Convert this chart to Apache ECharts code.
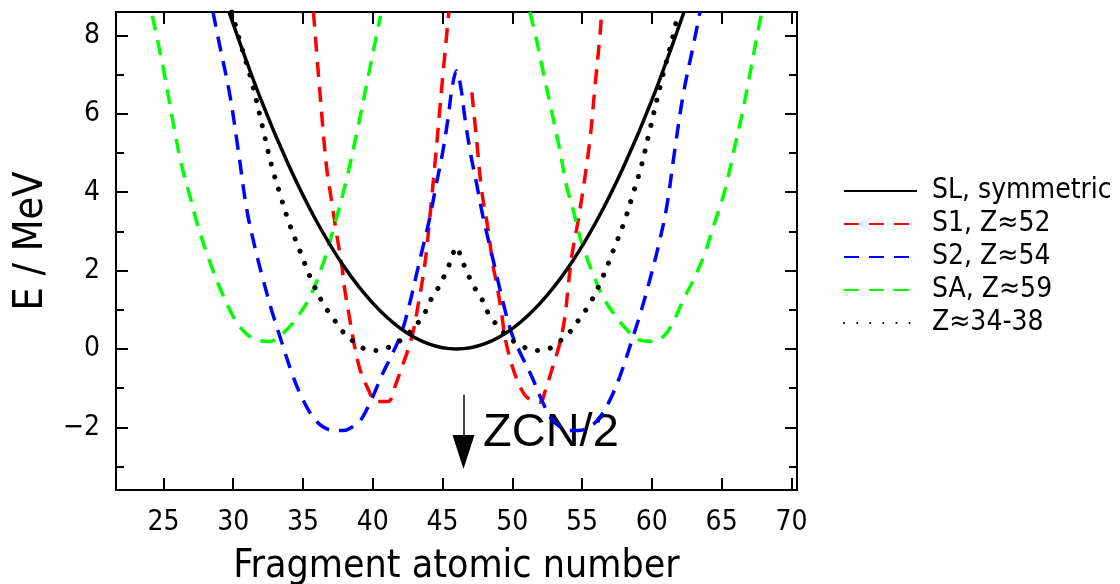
<!DOCTYPE html>
<html>
<head>
<meta charset="utf-8">
<script src="https://cdn.jsdelivr.net/npm/echarts@6/dist/echarts.min.js"></script>
<style>
  html, body { margin: 0; padding: 0; background: #fff; }
  #chart { width: 1120px; height: 584px; }
</style>
</head>
<body>
<div id="chart"></div>
<script>
// tick values
const xTicks = [25, 30, 35, 40, 45, 50, 55, 60, 65, 70];
const yTicks = [-2, 0, 2, 4, 6, 8];
const yMinorTicks = [-3, -1, 1, 3, 5, 7];

// [Z, E]
const slSymmetric = [
  [29.7, 8.6], [32, 6.35], [34, 4.67], [36, 3.24], [38, 2.07], [40, 1.17], [42, 0.52], [44, 0.13],
  [46, 0], [48, 0.13], [50, 0.52], [52, 1.17], [54, 2.07], [56, 3.24], [58, 4.67], [60, 6.35], [62.3, 8.6]
];
const s1 = [
  [35.75, 8.6], [36.2, 6.6], [36.68, 4.67], [37.04, 3.8], [37.4, 2.95], [37.76, 2.18], [38.0, 1.5],
  [38.36, 0.74], [38.7, 0.06], [39.1, -0.54], [39.7, -1.05], [40.2, -1.34], [41.1, -1.34], [41.6, -0.95],
  [42.0, -0.55], [42.45, -0.1], [42.9, 0.45], [43.25, 1.12], [43.6, 1.84], [43.85, 2.5], [44.1, 3.4],
  [44.5, 4.9], [44.95, 6.7], [45.45, 8.6],
  [46.3, '-'],
  [47.1, 6.55], [47.45, 5.3], [47.8, 4.06], [48.27, 3.04], [48.63, 2.1], [48.87, 1.68], [49.23, 0.91],
  [49.47, 0.31], [49.8, -0.2], [50.25, -0.71], [50.6, -1.0], [51.1, -1.25], [51.95, -1.36], [52.45, -0.96],
  [52.9, -0.45], [53.4, 0.14], [53.77, 0.82], [54.0, 1.59], [54.25, 2.35], [54.6, 3.04], [55.0, 3.9],
  [55.56, 5.33], [55.92, 6.69], [56.28, 8.0], [56.4, 8.6]
];
const s2 = [
  [28.55, 8.6], [29.0, 7.8], [29.75, 6.5], [30.35, 5.1], [30.95, 3.6], [31.55, 2.6], [32.15, 1.76],
  [32.75, 0.99], [33.35, 0.31], [34.3, -0.71], [35.0, -1.3], [35.7, -1.73], [36.4, -1.98], [37.2, -2.08],
  [37.9, -2.08], [38.6, -1.98], [39.2, -1.78], [40.0, -1.22], [40.6, -0.71], [41.3, -0.2], [42.05, 0.4],
  [42.65, 1.17], [43.15, 1.93], [43.6, 2.61], [44.1, 3.37], [44.55, 4.2], [45.0, 5.0], [45.4, 5.9],
  [45.7, 6.7], [46.0, 7.1], [46.3, 6.7], [46.6, 5.9], [47.0, 5.0], [47.45, 4.2], [47.9, 3.37], [48.4, 2.61],
  [48.85, 1.93], [49.35, 1.17], [49.95, 0.4], [50.7, -0.2], [51.4, -0.71], [52.0, -1.22], [52.8, -1.78],
  [53.4, -1.98], [54.1, -2.08], [54.8, -2.08], [55.6, -1.98], [56.3, -1.73], [57.0, -1.3], [57.7, -0.71],
  [58.65, 0.31], [59.25, 0.99], [59.85, 1.76], [60.45, 2.6], [61.05, 3.6], [61.65, 5.1], [62.25, 6.5],
  [63.0, 7.8], [63.45, 8.6]
];
const sa = [
  [24.2, 8.5], [24.97, 7.2], [25.7, 5.76], [26.3, 4.69], [26.9, 3.9], [27.48, 3.12], [28.2, 2.35],
  [28.9, 1.68], [29.75, 1.0], [30.47, 0.57], [31.4, 0.27], [32.6, 0.19], [33.57, 0.4], [34.53, 0.78],
  [35.5, 1.33], [36.44, 2.18], [37.16, 3.04], [38.1, 4.3], [38.9, 5.6], [39.7, 7.0], [40.55, 8.5],
  [46.0, '-'],
  [51.26, 8.6], [51.74, 7.88], [52.2, 7.1], [52.8, 6.1], [53.4, 5.08], [53.9, 4.14], [54.36, 3.55],
  [54.84, 2.86], [55.32, 2.35], [55.8, 1.9], [56.5, 1.33], [57.47, 0.8], [58.4, 0.42], [59.1, 0.23],
  [60.1, 0.19], [60.94, 0.36], [61.5, 0.66], [62.25, 1.25], [63.08, 1.84], [63.8, 2.44], [64.4, 3.12],
  [64.95, 3.7], [65.36, 4.23], [65.83, 4.99], [66.43, 5.93], [66.9, 6.78], [67.39, 7.71], [67.87, 8.6]
];
const z3438 = [
  [29.9, 8.6], [30.6, 7.7], [31.3, 6.86], [32.26, 5.42], [32.74, 4.69], [33.34, 3.97], [34.0, 3.22],
  [34.77, 2.51], [35.56, 1.8], [36.5, 1.12], [37.1, 0.82], [37.76, 0.48], [38.48, 0.23], [39.3, 0.02],
  [40.38, -0.04], [41.46, 0.1], [42.3, 0.31], [43.0, 0.57], [43.66, 0.87], [44.09, 1.21], [44.68, 1.55],
  [45.16, 1.89], [45.57, 2.23], [46.0, 2.6], [46.43, 2.23], [46.84, 1.89], [47.32, 1.55], [47.91, 1.21],
  [48.34, 0.87], [49.0, 0.57], [49.7, 0.31], [50.54, 0.1], [51.62, -0.04], [52.7, 0.02], [53.52, 0.23],
  [54.24, 0.48], [54.9, 0.82], [55.5, 1.12], [56.44, 1.8], [57.23, 2.51], [58.0, 3.22], [58.66, 3.97],
  [59.26, 4.69], [59.74, 5.42], [60.7, 6.86], [61.45, 7.9], [61.9, 8.6]
];
// ZCN/2 arrow, from / to (E)
const zcnZ = 46.5;
const zcnArrow = [-1.17, -2.63];

const font = '"DejaVu Sans Condensed", "DejaVu Sans", sans-serif';
const xRange = [21.6, 70.4];
const yRange = [-3.6, 8.6];

const chart = echarts.init(document.getElementById('chart'));

const boxLine = { show: true, onZero: false, lineStyle: { color: '#000', width: 2 } };
const xAxisBase = {
  type: 'value', min: xRange[0], max: xRange[1],
  axisLine: boxLine, splitLine: { show: false },
  axisTick: { show: true, inside: true, length: 12, customValues: xTicks, lineStyle: { color: '#000', width: 2 } },
};
const yAxisBase = (pos, ticks, len, labels) => ({
  type: 'value', position: pos, min: yRange[0], max: yRange[1],
  axisLine: boxLine, splitLine: { show: false },
  axisTick: { show: true, inside: true, length: len, customValues: ticks, lineStyle: { color: '#000', width: 2 } },
  axisLabel: labels ? {
    show: true, customValues: ticks, color: '#000', fontFamily: font, fontSize: 28, margin: 16,
    formatter: (v) => String(v).replace('-', '\u2212'),
  } : { show: false },
});

const dashed = (color) => ({ color: color, width: 3.5, type: [15, 10] });

const option = {
  animation: false,
  grid: { left: 116, right: 323, top: 12, bottom: 94, outerBoundsMode: 'none' },
  legend: {
    orient: 'vertical', left: 838, top: 172, itemWidth: 73, itemHeight: 16, itemGap: 5,
    itemStyle: { opacity: 0 },
    textStyle: { color: '#000', fontFamily: font, fontSize: 28, padding: [0, 0, 0, 10] },
    data: ['SL, symmetric', 'S1, Z≈52', 'S2, Z≈54', 'SA, Z≈59', 'Z≈34-38'],
  },
  xAxis: [
    Object.assign({}, xAxisBase, {
      position: 'bottom',
      axisLabel: { customValues: xTicks, color: '#000', fontFamily: font, fontSize: 28, margin: 19 },
      name: 'Fragment atomic number', nameLocation: 'middle', nameGap: 57,
      nameTextStyle: { color: '#000', fontFamily: font, fontSize: 39 },
    }),
    Object.assign({}, xAxisBase, { position: 'top', axisLabel: { show: false } }),
  ],
  yAxis: [
    Object.assign(yAxisBase('left', yTicks, 12, true), {
      name: 'E / MeV', nameLocation: 'middle', nameGap: 63, nameRotate: 90,
      nameTextStyle: { color: '#000', fontFamily: font, fontSize: 41, padding: [0, 0, 0, 20] },
    }),
    yAxisBase('left', yMinorTicks, 8, false),
    yAxisBase('right', yTicks, 12, false),
    yAxisBase('right', yMinorTicks, 8, false),
  ],
  series: [
    {
      name: 'SL, symmetric', type: 'line', data: slSymmetric, smooth: 0.4, symbol: 'none',
      lineStyle: { color: '#000', width: 3.5 }, itemStyle: { color: '#000' }, z: 5,
      markLine: {
        silent: true, symbol: ['none', 'triangle'], symbolSize: [22, 34],
        lineStyle: { color: '#000', width: 1.5, type: 'solid' }, label: { show: false },
        data: [[{ coord: [zcnZ, zcnArrow[0]] }, { coord: [zcnZ, zcnArrow[1]] }]],
      },
    },
    {
      name: 'S1, Z≈52', type: 'line', data: s1, smooth: 0.35, symbol: 'none',
      lineStyle: dashed('#ff0000'), itemStyle: { color: '#ff0000' },
    },
    {
      name: 'S2, Z≈54', type: 'line', data: s2, smooth: 0.35, symbol: 'none',
      lineStyle: dashed('#0000ff'), itemStyle: { color: '#0000ff' },
    },
    {
      name: 'SA, Z≈59', type: 'line', data: sa, smooth: 0.35, symbol: 'none',
      lineStyle: dashed('#00ff00'), itemStyle: { color: '#00ff00' },
    },
    {
      name: 'Z≈34-38', type: 'line', data: z3438, smooth: 0.35, symbol: 'none',
      lineStyle: { color: '#000', width: 5, type: [0.1, 13], cap: 'round' }, itemStyle: { color: '#000' },
    },
  ],
  graphic: [
    { type: 'text', left: 483, top: 410, style: { text: 'ZCN/2', fill: '#000', font: '47px "Liberation Sans", Arial, sans-serif' } },
  ],
};
chart.setOption(option);
</script>
</body>
</html>
